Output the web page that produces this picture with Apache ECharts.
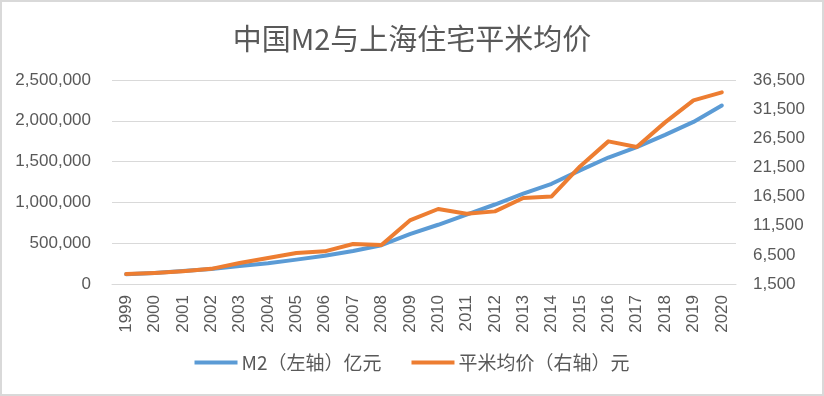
<!DOCTYPE html>
<html>
<head>
<meta charset="utf-8">
<script src="https://cdn.jsdelivr.net/npm/echarts@6/dist/echarts.min.js"></script>
<style>
  html, body { margin: 0; padding: 0; background: #fff; }
  .frame {
    width: 824px;
    height: 396px;
    box-sizing: border-box;
    border: 2px solid #d9d9d9;
    position: relative;
  }
  .chart { position: absolute; left: 0; top: 0; right: 0; bottom: 0; }
</style>
</head>
<body>
<div class="frame"><div class="chart" id="chart"></div></div>
<script>
// 年份
const years = ['1999', '2000', '2001', '2002', '2003', '2004', '2005', '2006', '2007', '2008', '2009',
  '2010', '2011', '2012', '2013', '2014', '2015', '2016', '2017', '2018', '2019', '2020'];
// M2（亿元）
const m2 = [119898, 134610, 158302, 185007, 221223, 254107, 298756, 345578, 403442, 475167, 610225,
  725852, 851591, 974149, 1106525, 1228375, 1392278, 1550067, 1676769, 1826744, 1986488, 2186796];
// 上海住宅平米均价（元）
const price = [3200, 3400, 3700, 4100, 5100, 5950, 6820, 7100, 8360, 8190, 12400,
  14370, 13560, 13960, 16250, 16530, 21680, 25970, 25000, 29230, 33000, 34370];

const fontNum = '"Liberation Sans", "Noto Sans CJK SC", sans-serif';
const fontCJK = '"Noto Sans CJK SC", sans-serif';
const txt = '#595959';
const grey = '#d9d9d9';
const thousands = (v) => String(v).replace(/\B(?=(\d{3})+(?!\d))/g, ',');

const chart = echarts.init(document.getElementById('chart'), null, { renderer: 'canvas' });
chart.setOption({
  animation: false,
  title: {
    text: '中国M2与上海住宅平米均价',
    left: 'center',
    top: 17,
    textStyle: { color: txt, fontSize: 29, fontWeight: 'normal', fontFamily: fontCJK },
  },
  legend: {
    bottom: 17,
    left: 'center',
    icon: 'rect',
    itemWidth: 43,
    itemHeight: 4,
    itemGap: 30,
    textStyle: { color: txt, fontSize: 19, fontFamily: fontCJK, padding: [0, 0, 0, -1] },
    data: ['M2（左轴）亿元', '平米均价（右轴）元'],
  },
  grid: { left: 110, top: 78, width: 624, height: 204, containLabel: false },
  xAxis: {
    type: 'category',
    data: years,
    boundaryGap: true,
    axisTick: { show: false },
    axisLine: { lineStyle: { color: grey, width: 1 } },
    axisLabel: { rotate: 90, margin: 11, color: txt, fontSize: 17, fontFamily: fontNum, interval: 0 },
  },
  yAxis: [
    {
      type: 'value',
      min: 0,
      max: 2500000,
      interval: 500000,
      axisLine: { show: false },
      axisTick: { show: false },
      splitLine: { lineStyle: { color: grey, width: 1 } },
      axisLabel: { color: txt, fontSize: 17, fontFamily: fontNum, margin: 21, formatter: thousands },
    },
    {
      type: 'value',
      min: 1500,
      max: 36500,
      interval: 5000,
      axisLine: { show: false },
      axisTick: { show: false },
      splitLine: { show: false },
      axisLabel: { color: txt, fontSize: 17, fontFamily: fontNum, margin: 17, formatter: thousands },
    },
  ],
  series: [
    {
      name: 'M2（左轴）亿元',
      type: 'line',
      yAxisIndex: 0,
      data: m2,
      symbol: 'none',
      color: '#5b9bd5',
      lineStyle: { width: 4, color: '#5b9bd5', cap: 'round', join: 'round' },
    },
    {
      name: '平米均价（右轴）元',
      type: 'line',
      yAxisIndex: 1,
      data: price,
      symbol: 'none',
      color: '#ed7d31',
      lineStyle: { width: 4, color: '#ed7d31', cap: 'round', join: 'round' },
    },
  ],
});
</script>
</body>
</html>
